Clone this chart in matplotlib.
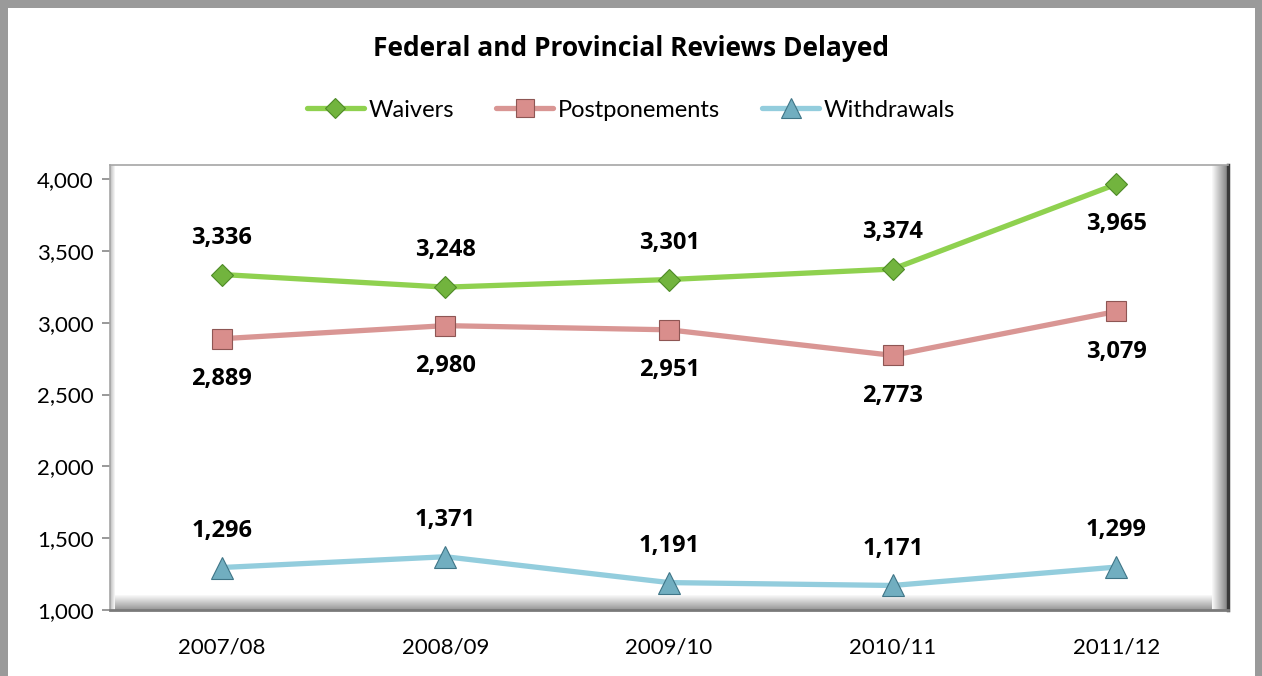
import matplotlib
matplotlib.use("Agg")
import matplotlib.pyplot as plt
from matplotlib.patches import Rectangle

years = ["2007/08", "2008/09", "2009/10", "2010/11", "2011/12"]
waivers = [3336, 3248, 3301, 3374, 3965]
postponements = [2889, 2980, 2951, 2773, 3079]
withdrawals = [1296, 1371, 1191, 1171, 1299]

# label placement per point: +1 above, -1 below
waiver_pos = [1, 1, 1, 1, -1]
postpone_pos = [-1, -1, -1, -1, -1]
withdraw_pos = [1, 1, 1, 1, 1]

plt.rcParams["font.family"] = ["Lato", "DejaVu Sans"]
BOLD = ["Open Sans", "DejaVu Sans"]

fig = plt.figure(figsize=(12.62, 6.76), dpi=100)
ax = fig.add_axes([0.0872, 0.0976, 0.886, 0.658])

x = list(range(len(years)))
series = [
    ("Waivers", waivers, waiver_pos, "#8FD14F", "D", "#72B43E", "#4E8A26", 11),
    ("Postponements", postponements, postpone_pos, "#D99694", "s", "#D98E8C", "#8E5654", 15),
    ("Withdrawals", withdrawals, withdraw_pos, "#93CDDD", "^", "#71AEC0", "#3F7587", 16),
]

for name, vals, pos, lc, mk, mfc, mec, ms in series:
    ax.plot(x, vals, color=lc, lw=3.8, marker=mk, markersize=ms,
            markerfacecolor=mfc, markeredgecolor=mec, markeredgewidth=0.8,
            label=name, zorder=3, solid_capstyle="round")
    for xi, v, p in zip(x, vals, pos):
        off = 26.5 if p > 0 else -29
        ax.annotate(f"{v:,}", (xi, v), xytext=(0, off), textcoords="offset points",
                    ha="center", va="center", fontsize=17, fontweight="bold",
                    family=BOLD, color="black", zorder=4)

ax.set_xlim(-0.5, len(years) - 0.5)
ax.set_ylim(1000, 4097)
ax.set_yticks([1000, 1500, 2000, 2500, 3000, 3500, 4000])
ax.set_yticklabels([f"{t:,}" for t in ax.get_yticks().astype(int)], fontsize=16)
ax.set_xticks(x)
ax.set_xticklabels(years, fontsize=16)
ax.tick_params(axis="x", length=0, pad=20)
ax.tick_params(axis="y", length=6, width=1.2, color="#888888", pad=6)

for s in ax.spines.values():
    s.set_color("#A6A6A6")
    s.set_linewidth(1.2)
ax.spines["right"].set_color("#3A3A3A")
ax.spines["right"].set_linewidth(2.5)
ax.spines["bottom"].set_color("#7A7A7A")
ax.spines["bottom"].set_linewidth(2)

# bevel shading of the plot area frame (gradients in pixel widths)
axw, axh = 0.886 * 1262, 0.658 * 676
steps = 14
for i in range(steps):
    t = i / (steps - 1)
    c = str(0.97 - 0.35 * t)
    hb = (15 - i) / axh
    ax.add_patch(Rectangle((0, 0), 1, hb, transform=ax.transAxes, color=c, lw=0, zorder=1))
for i in range(steps):
    t = i / (steps - 1)
    c = str(0.97 - 0.40 * t)
    wr = (16 - i) / axw
    ax.add_patch(Rectangle((1 - wr, 0), wr, 1, transform=ax.transAxes, color=c, lw=0, zorder=1))
for i in range(5):
    c = str(0.95 - 0.05 * i)
    wl = (5 - i) / axw
    ax.add_patch(Rectangle((0, 0), wl, 1, transform=ax.transAxes, color=c, lw=0, zorder=1))

ax.legend(loc="center", bbox_to_anchor=(0.5, 0.837), bbox_transform=fig.transFigure,
          ncol=3, frameon=False, fontsize=17, handlelength=2.4, columnspacing=1.8,
          handletextpad=0.2, markerscale=0.9)

fig.text(0.5, 0.928, "Federal and Provincial Reviews Delayed", ha="center", va="center",
         fontsize=19, fontweight="bold", family=BOLD)

# outer chart frame (grey border)
W, H = 1262, 676
for (bx, by, bw, bh) in [(0, 0, 8, H), (1255, 0, 7, H), (0, H - 8, W, 8)]:
    fig.patches.append(Rectangle((bx / W, by / H), bw / W, bh / H, transform=fig.transFigure,
                                 color="#9A9A9A", lw=0))

fig.savefig("out.png", dpi=100)
